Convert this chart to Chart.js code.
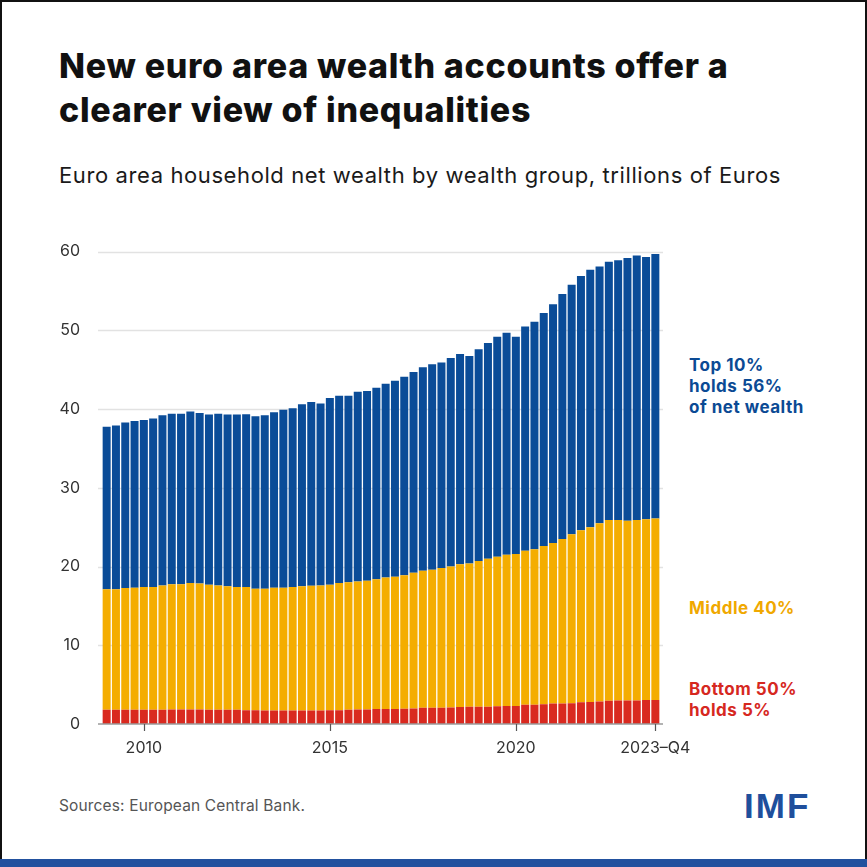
<!DOCTYPE html>
<html>
<head>
<meta charset="utf-8">
<script src="https://cdn.jsdelivr.net/npm/chart.js@4.4.0/dist/chart.umd.min.js"></script>
<style>
  html, body { margin: 0; padding: 0; }
  body { width: 867px; height: 867px; position: relative; overflow: hidden; background: #111; font-family: "Inter", "Lato", sans-serif; }
  #frame { position: absolute; left: 2px; top: 2px; width: 863px; height: 857px; background: #fff; }
  #band { position: absolute; left: 0; top: 859px; width: 867px; height: 8px; background: #22519e; }
  .t { position: absolute; white-space: nowrap; }
  #title { left: 59px; top: 44px; font-size: 34px; line-height: 44px; font-weight: 800; color: #111; letter-spacing: 0.7px; }
  #subtitle { left: 59px; top: 163px; font-size: 22px; line-height: 25px; font-weight: 400; color: #1a1a1a; letter-spacing: 0.6px; }
  .ann { left: 689px; font-size: 17px; line-height: 21px; font-weight: 700; letter-spacing: 0.5px; }
  #annTop { top: 355px; color: #0b4a94; }
  #annMid { top: 598px; color: #f0a800; }
  #annBot { top: 679px; color: #d6281f; }
  #source { left: 59px; top: 796px; font-size: 15.5px; line-height: 20px; color: #555; letter-spacing: 0.15px; }
  #imf { left: 744px; top: 786px; font-family: "Liberation Sans", Arial, sans-serif; font-size: 35px; line-height: 40px; font-weight: 700; color: #1f4f9c; letter-spacing: 2px; }
  #wrap { position: absolute; left: 0; top: 220px; width: 867px; height: 550px; }
</style>
</head>
<body>
<div id="frame"></div>
<div id="band"></div>
<div class="t" id="title">New euro area wealth accounts offer a<br>clearer view of inequalities</div>
<div class="t" id="subtitle">Euro area household net wealth by wealth group, trillions of Euros</div>
<div class="t ann" id="annTop">Top 10%<br>holds 56%<br>of net wealth</div>
<div class="t ann" id="annMid">Middle 40%</div>
<div class="t ann" id="annBot">Bottom 50%<br>holds 5%</div>
<div class="t" id="source">Sources: European Central Bank.</div>
<div class="t" id="imf">IMF</div>
<div id="wrap"><canvas id="c" width="867" height="550"></canvas></div>
<script>
// ---- Data (trillions of euros), quarterly 2009-Q1 .. 2023-Q4 ----
const years = [2009,2010,2011,2012,2013,2014,2015,2016,2017,2018,2019,2020,2021,2022,2023];
const quarters = ["Q1","Q2","Q3","Q4"];

const bottom50 = [
  1.8,1.8,1.8,1.8,1.8,1.8,1.8,1.85,1.85,1.85,
  1.85,1.8,1.8,1.8,1.8,1.75,1.75,1.7,1.7,1.7,
  1.7,1.7,1.7,1.7,1.75,1.75,1.8,1.85,1.85,1.9,
  1.9,1.9,1.95,1.97,2.05,2.05,2.05,2.1,2.15,2.2,
  2.2,2.2,2.25,2.3,2.3,2.45,2.45,2.5,2.6,2.6,
  2.65,2.75,2.8,2.85,2.95,3.0,3.0,3.0,3.05,3.05
];
const middle40 = [
  15.33,15.3,15.46,15.5,15.6,15.6,15.8,15.91,15.91,16.05,
  16.0,15.9,15.8,15.7,15.6,15.65,15.42,15.47,15.6,15.6,
  15.7,15.8,15.85,15.9,15.95,16.15,16.2,16.25,16.35,16.5,
  16.7,16.8,16.95,17.23,17.4,17.55,17.75,17.9,18.15,18.2,
  18.5,18.8,19.0,19.2,19.3,19.55,19.75,20.1,20.4,20.9,
  21.45,21.85,22.2,22.65,22.95,22.9,22.8,22.9,22.95,23.05
];
const top10 = [
  20.62,20.8,21.04,21.2,21.2,21.4,21.6,21.64,21.64,21.8,
  21.65,21.6,21.8,21.8,21.9,21.95,21.93,22.03,22.3,22.6,
  22.7,23.1,23.35,23.1,23.7,23.8,23.7,24.1,24.1,24.3,
  24.6,24.9,25.2,25.5,25.85,26.1,26.1,26.5,26.7,26.35,
  26.9,27.4,27.95,28.2,27.6,28.5,28.9,29.6,30.3,31.1,
  31.7,32.3,32.7,32.6,32.8,33.0,33.4,33.6,33.3,33.6
];
const yTicks = [0,10,20,30,40,50,60];
const xTickLabels = { "2010-Q1": "2010", "2015-Q1": "2015", "2020-Q1": "2020", "2023-Q4": "2023\u2013Q4" };

const categories = [];
years.forEach(y => quarters.forEach(q => categories.push(y + "-" + q)));

const colors = { bottom: "#d9291f", middle: "#f4ad00", top: "#0a4c98" };

// plugin: gridlines / axis line / tick marks drawn with the chart's own scales
const axesPlugin = {
  id: "axesPlugin",
  beforeDatasetsDraw(chart) {
    const { ctx, chartArea, scales } = chart;
    const left = chartArea.left - 4, right = chartArea.right + 3;
    ctx.save();
    ctx.strokeStyle = "#e2e2e2";
    ctx.lineWidth = 1.5;
    yTicks.forEach(v => {
      if (v === 0) return;
      const y = Math.round(scales.y.getPixelForValue(v)) + 0.5;
      ctx.beginPath(); ctx.moveTo(left, y); ctx.lineTo(right, y); ctx.stroke();
    });
    ctx.restore();
  },
  afterDatasetsDraw(chart) {
    const { ctx, chartArea, scales } = chart;
    const left = chartArea.left - 4, right = chartArea.right + 3;
    const y0 = scales.y.getPixelForValue(0);
    ctx.save();
    ctx.strokeStyle = "#9a9a9a";
    ctx.lineWidth = 1.5;
    ctx.beginPath(); ctx.moveTo(left, y0); ctx.lineTo(right, y0); ctx.stroke();
    ctx.strokeStyle = "#555";
    ctx.lineWidth = 1.2;
    categories.forEach((c, i) => {
      if (!xTickLabels[c]) return;
      const x = Math.round(scales.x.getPixelForValue(i)) + 0.5;
      ctx.beginPath(); ctx.moveTo(x, y0); ctx.lineTo(x, y0 + 7); ctx.stroke();
    });
    ctx.restore();
  }
};

Chart.defaults.font.family = "Inter, Lato, sans-serif";
Chart.defaults.color = "#333";

new Chart(document.getElementById("c"), {
  type: "bar",
  data: {
    labels: categories,
    datasets: [
      { label: "Bottom 50%", data: bottom50, backgroundColor: colors.bottom },
      { label: "Middle 40%", data: middle40, backgroundColor: colors.middle },
      { label: "Top 10%", data: top10, backgroundColor: colors.top }
    ]
  },
  options: {
    responsive: false,
    animation: false,
    devicePixelRatio: 1,
    layout: { padding: { left: 0, right: 207, top: 29, bottom: 0 } },
    datasets: { bar: { barPercentage: 0.86, categoryPercentage: 1.0, borderWidth: 0 } },
    plugins: { legend: { display: false }, tooltip: { enabled: false } },
    scales: {
      x: {
        stacked: true,
        grid: { display: false, drawTicks: false },
        border: { display: false },
        ticks: {
          autoSkip: false, maxRotation: 0, minRotation: 0, padding: 15,
          font: { size: 16 }, color: "#333",
          callback: function (v, i) { return xTickLabels[categories[i]] || ""; }
        },
        afterFit: s => { s.height = 46; }
      },
      y: {
        stacked: true,
        min: 0, max: 60,
        grid: { display: false, drawTicks: false },
        border: { display: false },
        ticks: { stepSize: 10, padding: 22, font: { size: 16 }, color: "#333" },
        afterFit: s => { s.width = 102; }
      }
    }
  },
  plugins: [axesPlugin]
});
</script>
</body>
</html>
